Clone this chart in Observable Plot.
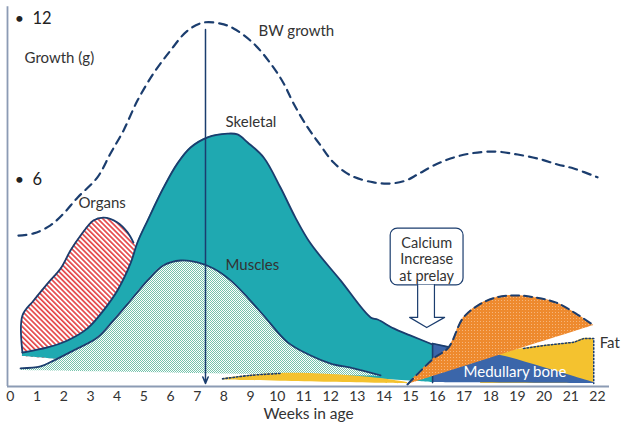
<!DOCTYPE html>
<html><head><meta charset="utf-8">
<script src="https://cdn.jsdelivr.net/npm/d3@7"></script>
<script src="https://cdn.jsdelivr.net/npm/@observablehq/plot@0.6"></script>
<style>body{margin:0;background:#fff;} svg{display:block}</style>
</head><body><div id="chart"></div>
<script>
// ---- data (weeks in age, growth in g) ----
const weeks = d3.range(0, 23);
const yTicks = [6, 12];

const bwWeek = [0.30,0.87,1.50,1.99,2.52,3.26,3.75,4.24,4.76,5.36,6.00,6.64,7.24,7.87,8.36,9.11,9.75,10.24,10.61,11.14,11.62,12.11,12.75,13.61,14.25,14.81,15.26,15.86,16.49,17.24,18.18,19.01,19.87,20.50,21.11,22.00];
const bwG    = [3.91,3.99,4.29,4.73,5.33,6.08,6.97,7.83,8.94,9.95,10.81,11.55,11.85,11.81,11.63,11.07,10.32,9.58,8.83,7.94,7.27,6.63,6.15,5.89,5.85,5.96,6.19,6.52,6.78,6.97,7.04,6.93,6.75,6.56,6.41,6.08];

const skelWeek = [0.45,1.39,2.14,2.89,3.49,4.01,4.50,4.76,5.14,5.74,6.26,6.75,7.39,8.14,8.51,8.89,9.49,10.12,10.68,11.25,12.37,13.50,13.76,14.36,14.98,15.82];
const skelG    = [-0.45,-0.26,0.00,0.45,1.12,1.86,2.87,3.65,4.47,5.70,6.60,7.19,7.57,7.71,7.68,7.38,6.82,5.70,4.58,3.61,2.24,0.86,0.78,0.45,0.19,-0.15];
const skelBaseWeek = [0.45,5.25,10.12,15.82];
const skelBaseG    = [-0.60,-0.97,-1.19,-1.57];

const orgWeek = [0.45,0.87,1.39,1.88,2.25,2.63,3.11,3.49,4.01,4.39,4.61,4.80];
const orgG    = [0.93,1.49,2.12,2.68,3.35,3.91,4.47,4.58,4.40,4.03,3.65,3.40];

const musWeek = [0.38,1.13,1.62,2.37,3.26,3.86,4.50,5.14,5.74,6.38,7.01,7.61,8.25,8.89,9.49,10.39,11.25,12.00,12.86,13.87];
const musG    = [-1.04,-0.97,-0.75,-0.37,0.11,0.75,1.49,2.24,2.80,2.98,2.91,2.68,2.24,1.60,0.93,-0.07,-0.56,-0.86,-1.04,-1.30];
const musBaseWeek = [0.38,7.12,13.87];
const musBaseG    = [-1.12,-1.23,-1.34];

const fatEarlyWeek = [7.95,9.00,10.12,12.00,13.87,14.88];
const fatEarlyG    = [-1.43,-1.30,-1.23,-1.27,-1.42,-1.57];
const fatEarlyBaseWeek = [7.95,14.88];
const fatEarlyBaseG    = [-1.47,-1.62];

const fatWeek = [17.62,19.23,19.98,20.73,21.11,21.48,21.86];
const fatG    = [-0.63,-0.30,-0.19,-0.11,-0.07,0.07,0.07];
const fatBaseG = -1.60;

const medWeek = [15.82,16.31,17.24,18.37,19.98,21.86];
const medG    = [-0.11,-0.22,-0.41,-0.56,-1.01,-1.57];
const medBaseWeek = [15.82,21.86];
const medBaseG    = [-1.57,-1.60];

const oraWeek = [14.88,15.86,16.42,16.95,17.51,18.18,18.93,19.68,20.43,21.18,21.86];
const oraG    = [-1.64,-0.67,-0.26,0.82,1.30,1.60,1.68,1.60,1.42,1.01,0.56];
const oraBaseWeek = [14.88,21.86];
const oraBaseG    = [-1.64,0.56];

const arrowWeek = 7.31, arrowFrom = 11.59, arrowTo = -1.60;

const calloutLines = ["Calcium","Increase","at prelay"];
const calloutLineG = [3.61,3.02,2.39];
const calloutWeek = 15.60;
const calloutBox = {x1:14.25, x2:16.98, y1:2.05, y2:4.17};
const calloutArrowWeek = [15.26,15.26,14.96,15.60,16.27,15.89,15.89];
const calloutArrowG    = [2.08,0.86,0.86,0.48,0.86,0.86,2.08];

const labelText = ["BW growth","Skeletal","Organs","Muscles","Fat","Growth (g)"];
const labelWeek = [9.30,8.06,2.55,8.06,22.08,0.53];
const labelG    = [11.52,8.12,5.10,2.80,-0.11,10.51];
const medLabel = {text:"Medullary bone", week:16.98, g:-1.19};
const xLabel = "Weeks in age";

// ---- build tables ----
const lin = (xs, ys) => d3.scaleLinear().domain(xs).range(ys).clamp(true);
const skelBase = lin(skelBaseWeek, skelBaseG);
const musBase = lin(musBaseWeek, musBaseG);
const fatEarlyBase = lin(fatEarlyBaseWeek, fatEarlyBaseG);
const medBase = lin(medBaseWeek, medBaseG);
const oraBase = lin(oraBaseWeek, oraBaseG);

const rows = (ws, gs, base) => ws.map((w,i)=>({week:w, top:gs[i], base: typeof base === "function" ? base(w) : base}));
const bw = rows(bwWeek, bwG, 0);
const skeletal = rows(skelWeek, skelG, skelBase);
const organs = rows(orgWeek, orgG, skelBase);
const muscles = rows(musWeek, musG, musBase);
const fatEarly = rows(fatEarlyWeek, fatEarlyG, fatEarlyBase);
const fat = rows(fatWeek, fatG, fatBaseG);
const med = rows(medWeek, medG, medBase);
const orange = rows(oraWeek, oraG, oraBase);
const labels = labelText.map((t,i)=>({text:t, week:labelWeek[i], g:labelG[i]}));
const organOutline = [{week:orgWeek[0], top:skelG[0]}, ...organs.slice(0, organs.length-1)];
const medOutline = [{week:medWeek[0], top:medBaseG[0]}, ...med.slice(0,3)];
const fatOutline = [...fat.slice(1), {week:fatWeek[fatWeek.length-1], top:fatBaseG}];
const calloutArrow = calloutArrowWeek.map((w,i)=>({week:w, g:calloutArrowG[i]}));
const callout = calloutLines.map((t,i)=>({text:t, week:calloutWeek, g:calloutLineG[i]}));

const navy = "#1b3d6e", teal = "#1fa9b1", axisCol = "#8c9bb4", txt = "#333";
const xDomain = [-0.11, 22.45], yDomain = [-1.716, 12.671];

const chart = Plot.plot({
  width: 621, height: 425,
  marginLeft: 7, marginRight: 12, marginTop: 0, marginBottom: 39,
  x: {domain: xDomain},
  y: {domain: yDomain},
  style: {fontFamily: "Lato, sans-serif", fontSize: "15px", color: txt, background: "white"},
  marks: [
    // fills
    Plot.areaY(organs, {x:"week", y1:"base", y2:"top", fill:"url(#hatchRed)", curve:"catmull-rom"}),
    Plot.areaY(skeletal, {x:"week", y1:"base", y2:"top", fill:teal, curve:"catmull-rom"}),
    Plot.areaY(muscles, {x:"week", y1:"base", y2:"top", fill:"url(#checkGreen)", curve:"catmull-rom"}),
    Plot.areaY(fatEarly, {x:"week", y1:"base", y2:"top", fill:"#f4c22f", curve:"catmull-rom"}),
    Plot.areaY(fat, {x:"week", y1:"base", y2:"top", fill:"#f4c22f", curve:"catmull-rom"}),
    Plot.line(fatOutline, {x:"week", y:"top", stroke:navy, strokeWidth:1.5, strokeDasharray:"1.5,2", curve:"linear"}),
    Plot.areaY(med, {x:"week", y1:"base", y2:"top", fill:"#3b66aa", curve:"catmull-rom"}),
    Plot.line(medOutline, {x:"week", y:"top", stroke:navy, strokeWidth:1.6, curve:"linear"}),
    Plot.areaY(orange, {x:"week", y1:"base", y2:"top", fill:"url(#dotOrange)", curve:"catmull-rom"}),
    // outlines
    Plot.line(organOutline, {x:"week", y:"top", stroke:navy, strokeWidth:1.8, curve:"catmull-rom"}),
    Plot.line(skeletal, {x:"week", y:"top", stroke:navy, strokeWidth:1.8, curve:"catmull-rom"}),
    Plot.line(muscles, {x:"week", y:"top", stroke:navy, strokeWidth:1.8, curve:"catmull-rom"}),
    Plot.line(fatEarly.slice(0,3), {x:"week", y:"top", stroke:navy, strokeWidth:1.6, strokeDasharray:"1.5,2", curve:"catmull-rom"}),
    Plot.line(orange, {x:"week", y:"top", stroke:navy, strokeWidth:2, strokeDasharray:"8,5", curve:"catmull-rom"}),
    Plot.line(bw, {x:"week", y:"top", stroke:navy, strokeWidth:2.2, strokeDasharray:"8,6", curve:"catmull-rom"}),
    // vertical arrow
    Plot.arrow([{w:arrowWeek, a:arrowFrom, b:arrowTo}], {x1:"w", y1:"a", x2:"w", y2:"b", stroke:navy, strokeWidth:1.5, headLength:7, headAngle:45}),
    // callout
    Plot.rect([calloutBox], {x1:"x1", x2:"x2", y1:"y1", y2:"y2", fill:"white", stroke:navy, strokeWidth:1.2, rx:7}),
    Plot.line(calloutArrow, {x:"week", y:"g", fill:"white", stroke:navy, strokeWidth:1.2, curve:"linear"}),
    Plot.text(callout, {x:"week", y:"g", text:"text", fontSize:14.5, fill:txt, textAnchor:"middle"}),
    // labels
    Plot.text(labels, {x:"week", y:"g", text:"text", fontSize:15, fill:txt, textAnchor:"start"}),
    Plot.text([medLabel], {x:"week", y:"g", text:"text", fontSize:15, fill:"white", textAnchor:"start"}),
    // axes
    Plot.ruleY([yDomain[0]], {x1:xDomain[0], x2:xDomain[1], stroke:axisCol, strokeWidth:2}),
    Plot.ruleX([xDomain[0]], {y1:yDomain[0], y2:12.44, stroke:axisCol, strokeWidth:1.8}),
    Plot.axisX(weeks, {tickSize:0, tickPadding:5, label:null, fontSize:14, fill:txt}),
    Plot.text([xLabel], {frameAnchor:"bottom", text:d=>d, dy:32, fontSize:15.5, fill:txt}),
    Plot.axisY(yTicks, {anchor:"left", tickSize:0, tickPadding:0, tickFormat:()=>"•", textAnchor:"middle", dx:12, fontSize:16, fill:"#222", label:null}),
    Plot.axisY(yTicks, {anchor:"left", tickSize:0, tickPadding:0, textAnchor:"start", dx:25, fontSize:16.5, fill:"#222", label:null})
  ]
});

// patterns
const defs = d3.select(chart).insert("defs", ":first-child");
const hatch = defs.append("pattern").attr("id","hatchRed").attr("patternUnits","userSpaceOnUse")
  .attr("width",3.6).attr("height",3.6).attr("patternTransform","rotate(-45)");
hatch.append("rect").attr("width",3.6).attr("height",3.6).attr("fill","white");
hatch.append("rect").attr("width",1.7).attr("height",3.6).attr("fill","#e5474a");
const chk = defs.append("pattern").attr("id","checkGreen").attr("patternUnits","userSpaceOnUse").attr("width",2).attr("height",2);
chk.append("rect").attr("width",2).attr("height",2).attr("fill","white");
chk.append("rect").attr("width",1).attr("height",1).attr("fill","#74c3ab");
chk.append("rect").attr("x",1).attr("y",1).attr("width",1).attr("height",1).attr("fill","#74c3ab");
const dot = defs.append("pattern").attr("id","dotOrange").attr("patternUnits","userSpaceOnUse").attr("width",3).attr("height",3);
dot.append("rect").attr("width",3).attr("height",3).attr("fill","#ee8a2e");
dot.append("rect").attr("width",1).attr("height",1).attr("fill","#f6b57a");

document.getElementById("chart").append(chart);
</script>
</body></html>
